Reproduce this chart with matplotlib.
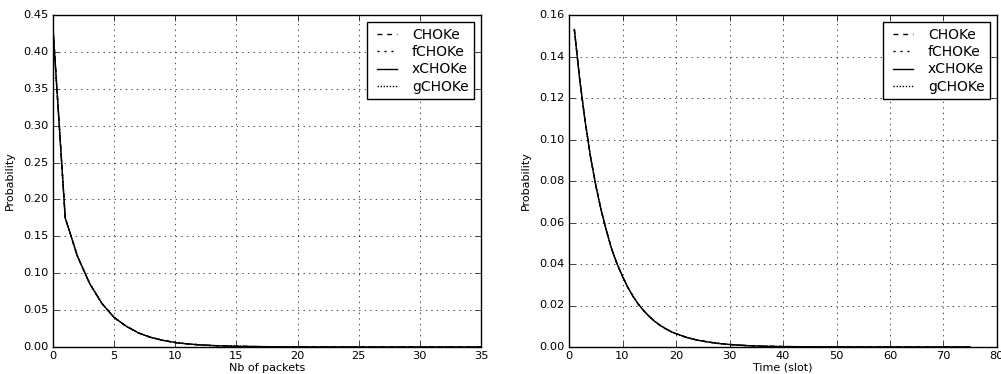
import numpy as np
import matplotlib
matplotlib.use("Agg")
import matplotlib.pyplot as plt

plt.style.use('classic')
plt.rcParams['font.family'] = 'DejaVu Sans'

# left panel: queue length distribution
pkts = list(range(0, 36))
p_pkts = [0.432, 0.175, 0.123, 0.086, 0.059, 0.040, 0.028, 0.019, 0.013, 0.009,
          0.006, 0.0042, 0.0029, 0.0020, 0.0014, 0.0010, 0.0007, 0.0005, 0.0003, 0.0002,
          0.00015, 0.0001, 0.00007, 0.00005, 0.00003, 0.00002, 0.00001, 0.00001, 0.0, 0.0,
          0.0, 0.0, 0.0, 0.0, 0.0, 0.0]

# right panel: time distribution
slots = [1, 2, 3, 4, 5, 6, 7, 8, 9, 10, 11, 12, 13, 14, 15, 16, 17, 18, 19, 20,
         22, 24, 26, 28, 30, 33, 36, 40, 45, 50, 60, 75]
p_slots = [0.153, 0.129, 0.109, 0.092, 0.078, 0.066, 0.056, 0.047, 0.040, 0.034,
           0.0287, 0.0243, 0.0205, 0.0174, 0.0147, 0.0124, 0.0105, 0.0089, 0.0075, 0.0064,
           0.0046, 0.0033, 0.0024, 0.0017, 0.0012, 0.0007, 0.0004, 0.0002, 0.0001, 0.00005,
           0.00001, 0.0]

names = ['CHOKe', 'fCHOKe', 'xCHOKe', 'gCHOKe']
styles = [(0, (3.5, 3.5)), (0, (1.5, 3.5)), '-', (0, (1, 1.2))]

fig = plt.figure(figsize=(10.01, 3.74), dpi=100, facecolor='white')
ax1 = fig.add_axes([53/1001, 1 - 347/374, 428/1001, 332/374])
ax2 = fig.add_axes([569/1001, 1 - 347/374, 428/1001, 332/374])

for ax, x, y, xl, xmax in [(ax1, pkts, p_pkts, 'Nb of packets', 35),
                           (ax2, slots, p_slots, 'Time (slot)', 80)]:
    for n, s in zip(names, styles):
        ax.plot(x, y, linestyle=s, color='k', linewidth=1, label=n)
    ax.set_xlim(0, xmax)
    ax.grid(True)
    ax.set_xlabel(xl, fontsize=8, labelpad=1)
    ax.set_ylabel('Probability', fontsize=8, labelpad=6)
    ax.tick_params(labelsize=8.2)
    ax.tick_params(axis='x', pad=3)
    ax.tick_params(axis='y', pad=3)
    ax.legend(loc='upper right', fontsize=10, handlelength=2.0, handletextpad=0.8,
              labelspacing=0.25, borderaxespad=0.5, borderpad=0.4)

ax1.set_ylim(0, 0.45)
ax2.set_ylim(0, 0.16)
ax1.set_yticks(np.arange(0, 0.451, 0.05))
ax2.set_yticks(np.arange(0, 0.161, 0.02))

fig.savefig('out.png', dpi=100, facecolor='white')
